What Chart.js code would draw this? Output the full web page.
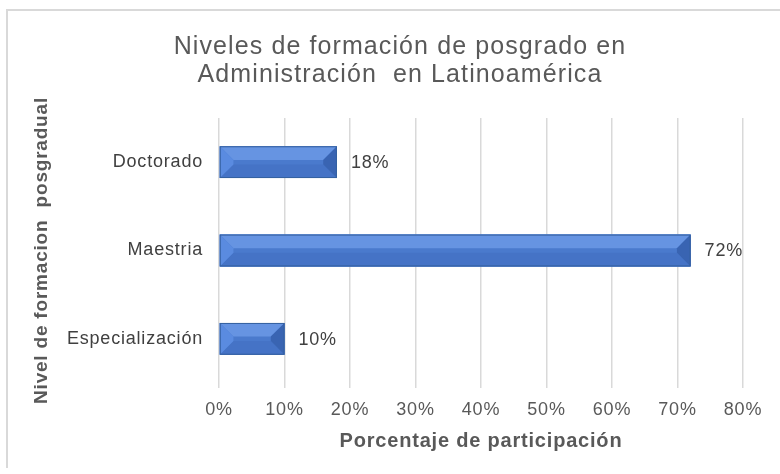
<!DOCTYPE html>
<html lang="es">
<head>
    <meta charset="UTF-8">
    <title>Niveles de formación de posgrado</title>
    <script src="https://cdn.jsdelivr.net/npm/chart.js"></script>
    <style>
        body { margin: 0; background: #fff; }
    </style>
</head>
<body>
    <canvas id="nivelesChart" width="780" height="474"></canvas>
    <script>
        const niveles = ['Doctorado', 'Maestria', 'Especialización'];
        const porcentajes = [18, 72, 10];
        const ticksX = [0, 10, 20, 30, 40, 50, 60, 70, 80];
        const titulo = ['Niveles de formación de posgrado en', 'Administración  en Latinoamérica'];

        const fuente = '"Liberation Sans", Arial, sans-serif';

        // el texto del original va algo espaciado
        const espaciado = {
            id: 'espaciado',
            beforeLayout(chart) { chart.ctx.letterSpacing = '0.8px'; },
            beforeDraw(chart) { chart.ctx.letterSpacing = '0.8px'; }
        };

        // marco gris y titulo
        const marco = {
            id: 'marco',
            beforeDraw(chart) {
                const c = chart.ctx;
                c.save();
                c.strokeStyle = '#d9d9d9';
                c.lineWidth = 2;
                c.beginPath();
                c.moveTo(7, 468);
                c.lineTo(7, 10);
                c.lineTo(780, 10);
                c.stroke();
                c.letterSpacing = '1.1px';
                c.font = '25px ' + fuente;
                c.fillStyle = '#595959';
                c.textAlign = 'center';
                c.textBaseline = 'middle';
                c.fillText(titulo[0], 400, 47);
                c.fillText(titulo[1], 400, 75);
                c.restore();
            }
        };

        // barras biseladas, dibujadas sobre las barras de la libreria
        const bisel = {
            id: 'bisel',
            afterDatasetsDraw(chart) {
                const c = chart.ctx;
                chart.getDatasetMeta(0).data.forEach(bar => {
                    const x0 = bar.base, x1 = bar.x;
                    const y0 = bar.y - bar.height / 2, y1 = bar.y + bar.height / 2;
                    const b = Math.min(bar.height * 0.43, (x1 - x0) / 2);
                    const poly = (pts, color) => {
                        c.beginPath();
                        c.moveTo(pts[0][0], pts[0][1]);
                        pts.slice(1).forEach(p => c.lineTo(p[0], p[1]));
                        c.closePath();
                        c.fillStyle = color;
                        c.fill();
                    };
                    c.save();
                    poly([[x0, y0], [x1, y0], [x1, y1], [x0, y1]], '#4a7acd');
                    poly([[x0, y0], [x1, y0], [x1 - b, y0 + b], [x0 + b, y0 + b]], '#6694e2');
                    poly([[x0, y1], [x1, y1], [x1 - b, y1 - b], [x0 + b, y1 - b]], '#4573c6');
                    poly([[x0, y0], [x0 + b, y0 + b], [x0 + b, y1 - b], [x0, y1]], '#5a8be0');
                    poly([[x1, y0], [x1 - b, y0 + b], [x1 - b, y1 - b], [x1, y1]], '#3964b2');
                    c.strokeStyle = '#34609f';
                    c.lineWidth = 1;
                    c.strokeRect(x0 + 0.5, y0 + 0.5, x1 - x0 - 1, y1 - y0 - 1);
                    c.restore();
                });
            }
        };

        // etiquetas de valor al final de cada barra
        const etiquetas = {
            id: 'etiquetas',
            afterDatasetsDraw(chart) {
                const c = chart.ctx;
                c.save();
                c.font = '18px ' + fuente;
                c.fillStyle = '#404040';
                c.textBaseline = 'middle';
                chart.getDatasetMeta(0).data.forEach((bar, i) => {
                    c.fillText(porcentajes[i] + '%', bar.x + 14, bar.y + 1);
                });
                c.restore();
            }
        };

        const ctx = document.getElementById('nivelesChart').getContext('2d');
        new Chart(ctx, {
            type: 'bar',
            data: {
                labels: niveles,
                datasets: [{
                    data: porcentajes,
                    backgroundColor: '#4a7acd',
                    barPercentage: 0.36,
                    categoryPercentage: 1
                }]
            },
            options: {
                indexAxis: 'y',
                responsive: false,
                animation: false,
                layout: { padding: { left: 30, right: 37, top: 118, bottom: 10 } },
                plugins: {
                    legend: { display: false },
                    tooltip: { enabled: false },
                    title: { display: false }
                },
                scales: {
                    x: {
                        min: ticksX[0],
                        max: ticksX[ticksX.length - 1],
                        afterBuildTicks(scale) {
                            scale.ticks = ticksX.map(v => ({ value: v }));
                        },
                        afterFit(scale) { scale.height = 81; },
                        ticks: {
                            callback: v => v + '%',
                            color: '#595959',
                            font: { family: fuente, size: 18 },
                            padding: 11
                        },
                        grid: { color: '#d9d9d9', lineWidth: 1.5, tickLength: 5 },
                        border: { display: false },
                        title: {
                            display: true,
                            text: 'Porcentaje de participación',
                            color: '#595959',
                            font: { family: fuente, size: 20, weight: 'bold' },
                            padding: { top: 4, bottom: 11 }
                        }
                    },
                    y: {
                        afterFit(scale) { scale.width = 189; },
                        grid: { display: false },
                        border: { display: false },
                        ticks: {
                            color: '#404040',
                            font: { family: fuente, size: 18 },
                            padding: 8
                        },
                        title: {
                            display: true,
                            text: 'Nivel de formacion  posgradual',
                            color: '#595959',
                            font: { family: fuente, size: 19, weight: 'bold' },
                            padding: { top: 0, bottom: 4 }
                        }
                    }
                }
            },
            plugins: [espaciado, marco, bisel, etiquetas]
        });
    </script>
</body>
</html>
